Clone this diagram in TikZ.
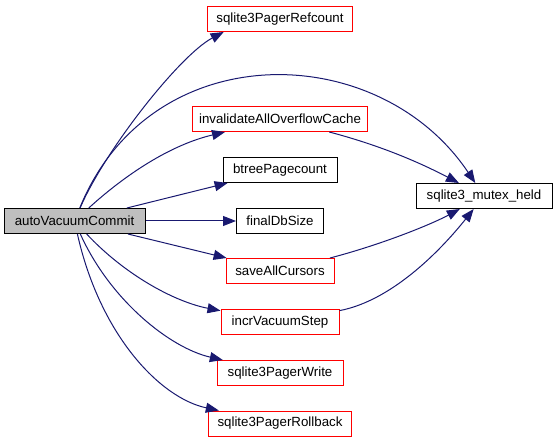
\documentclass[tikz,border=0pt]{standalone}
\usepackage{fontspec}
\setmainfont{Liberation Sans}
\usepackage{tikz}
\usetikzlibrary{arrows.meta}
\definecolor{EdgeBlue}{HTML}{191970}
\definecolor{BoxRed}{HTML}{FF0000}
\definecolor{RootGray}{HTML}{BFBFBF}

\begin{document}
\begin{tikzpicture}[x=1pt,y=-1pt]
\useasboundingbox (0,0) rectangle (556,443);

\tikzset{
  fnbox/.style={rectangle, draw=black, line width=1pt, fill=white, inner sep=0pt, minimum height=25pt, font=\fontsize{13.3}{15}\selectfont},
  call/.style={EdgeBlue, line width=1pt, -{Triangle[length=13pt,width=10pt]}}
}

% --- caller ---
\node[fnbox, fill=RootGray, minimum width=141pt] (avc) at (74.5,221) {autoVacuumCommit};

% --- callees ---
\foreach \name/\lab/\y/\w/\col in {refcount/sqlite3PagerRefcount/19/145/BoxRed,
    invalidate/invalidateAllOverflowCache/119/175/BoxRed,
    btreecount/btreePagecount/170/114/black,
    finalsize/finalDbSize/221/87/black,
    savecurs/saveAllCursors/271/108/BoxRed,
    incrstep/incrVacuumStep/322/118/BoxRed,
    pagerwrite/sqlite3PagerWrite/373/126/BoxRed,
    rollback/sqlite3PagerRollback/423.5/143/BoxRed}
  \node[fnbox, draw=\col, minimum width=\w pt] (\name) at (280,\y) {\lab};
\node[fnbox, minimum width=136pt] (mutex) at (484,196) {sqlite3\_mutex\_held};

% --- edges from caller ---
\draw[call] (avc) .. controls (105,150) and (180,55) .. (refcount.193);
\draw[call] (avc) .. controls (150,35) and (378,38) .. (mutex);
\draw[call] (avc) .. controls (125,175) and (170,145) .. (invalidate);
\draw[call] (avc) -- (btreecount);
\draw[call] (avc) -- (finalsize);
\draw[call] (avc) -- (savecurs);
\draw[call] (avc) .. controls (125,275) and (175,302) .. (incrstep);
\draw[call] (avc) .. controls (110,300) and (170,348) .. (pagerwrite);
\draw[call] (avc) .. controls (100,335) and (160,398) .. (rollback);

% --- edges into mutex ---
\draw[call] (invalidate) .. controls (390,148) and (430,168) .. (mutex);
\draw[call] (savecurs) .. controls (380,245) and (430,225) .. (mutex);
\draw[call] (incrstep) .. controls (395,300) and (445,245) .. (mutex);
\end{tikzpicture}
\end{document}
